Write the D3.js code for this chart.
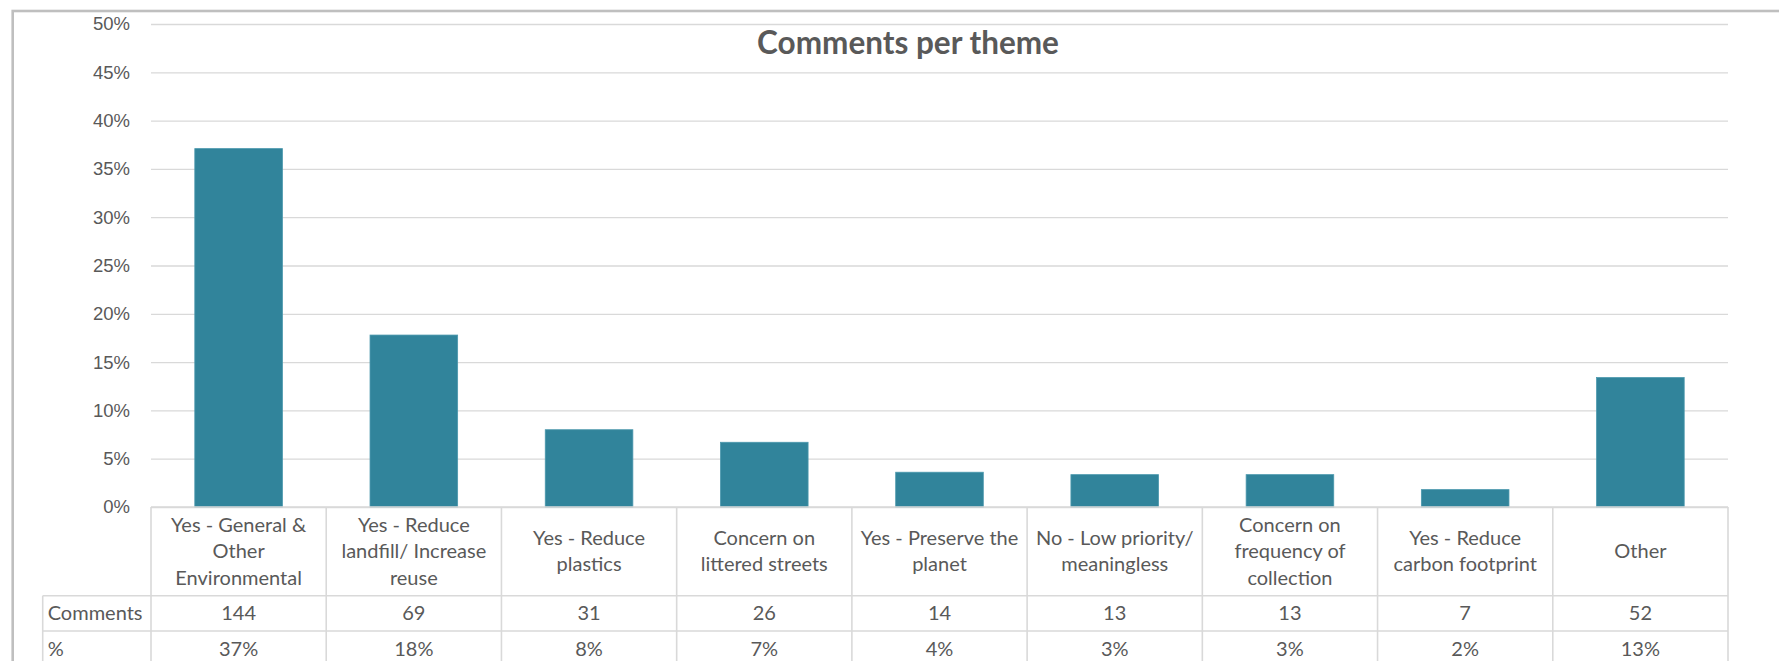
<!DOCTYPE html>
<meta charset="utf-8">
<style>
    body { margin: 0; background: #fff; }
    svg { display: block; font-family: Lato, "Open Sans", sans-serif; }
    .grid line { stroke: #d9d9d9; stroke-width: 1.3px; }
    .grid path { display: none; }
    .axis text { fill: #595959; font-size: 18.5px; }
    .axis line, .axis path { display: none; }
    .bar { fill: #31849b; stroke: #4b98ad; stroke-width: 0.8px; }
    .cell { stroke: #d9d9d9; stroke-width: 1.6px; fill: none; }
    .lbl { fill: #595959; font-size: 20px; text-anchor: middle; }
    .title { fill: #595959; font-size: 31.5px; font-weight: bold; text-anchor: middle; }
</style>
<body>
<svg width="1779" height="661"></svg>
<script src="https://d3js.org/d3.v7.min.js"></script>
<script>

    // chart data
    var categories = [
        ["Yes - General &", "Other", "Environmental"],
        ["Yes - Reduce", "landfill/ Increase", "reuse"],
        ["Yes - Reduce", "plastics"],
        ["Concern on", "littered streets"],
        ["Yes - Preserve the", "planet"],
        ["No - Low priority/", "meaningless"],
        ["Concern on", "frequency of", "collection"],
        ["Yes - Reduce", "carbon footprint"],
        ["Other"]
    ];
    var shares = [37.1, 17.8, 8.0, 6.7, 3.6, 3.35, 3.35, 1.8, 13.4];
    var comments = [144, 69, 31, 26, 14, 13, 13, 7, 52];
    var pctLabels = ["37%", "18%", "8%", "7%", "4%", "3%", "3%", "2%", "13%"];
    var yTicks = [0, 5, 10, 15, 20, 25, 30, 35, 40, 45, 50];
    var rowNames = ["Comments", "%"];

    var svg = d3.select("svg"),
        plot = {left: 151, right: 1728, top: 24, bottom: 507},
        tableLeft = 42.7,
        rows = [507, 595.7, 631, 666];

    var x = d3.scaleBand()
        .domain(d3.range(categories.length))
        .range([plot.left, plot.right])
        .paddingInner(0.5)
        .paddingOuter(0.25);

    var band = d3.scaleBand()
        .domain(d3.range(categories.length))
        .range([plot.left, plot.right]);

    var y = d3.scaleLinear().domain([0, 50]).range([plot.bottom, plot.top]);

    // outer chart border (cropped on right/bottom)
    svg.append("rect")
        .attr("x", 12.7).attr("y", 11)
        .attr("width", 1900).attr("height", 800)
        .attr("fill", "none")
        .attr("stroke", "#bfbfbf")
        .attr("stroke-width", 2.6);

    // gridlines
    svg.append("g")
        .attr("class", "grid")
        .attr("transform", "translate(" + plot.left + ",0)")
        .call(d3.axisRight(y).tickValues(yTicks).tickSize(plot.right - plot.left).tickFormat(""));

    // y labels
    svg.append("g")
        .attr("class", "axis")
        .attr("transform", "translate(136,0)")
        .call(d3.axisLeft(y).tickValues(yTicks).tickSize(0).tickPadding(6).tickFormat(function (d) { return d + "%"; }));

    svg.append("text")
        .attr("class", "title")
        .attr("x", 908).attr("y", 54)
        .text("Comments per theme");

    // bars
    svg.selectAll(".bar")
        .data(shares)
        .enter().append("rect")
        .attr("class", "bar")
        .attr("x", function (d, i) { return x(i); })
        .attr("width", x.bandwidth())
        .attr("y", function (d) { return y(d); })
        .attr("height", function (d) { return y(0) - y(d); });

    // data table lines
    var tbl = svg.append("g");
    // horizontal lines
    tbl.append("line").attr("class", "cell")
        .attr("x1", plot.left).attr("x2", plot.right).attr("y1", rows[0]).attr("y2", rows[0]);
    [rows[1], rows[2], rows[3]].forEach(function (ry) {
        tbl.append("line").attr("class", "cell")
            .attr("x1", tableLeft).attr("x2", plot.right).attr("y1", ry).attr("y2", ry);
    });
    // vertical lines
    d3.range(categories.length + 1).forEach(function (i) {
        var vx = i < categories.length ? band(i) : plot.right;
        tbl.append("line").attr("class", "cell")
            .attr("x1", vx).attr("x2", vx).attr("y1", rows[0]).attr("y2", 700);
    });
    tbl.append("line").attr("class", "cell")
        .attr("x1", tableLeft).attr("x2", tableLeft).attr("y1", rows[1]).attr("y2", 700);

    // category labels
    var lineH = 26.3;
    var catMid = (rows[0] + rows[1]) / 2;
    svg.selectAll(".cat")
        .data(categories)
        .enter().append("text")
        .attr("class", "lbl")
        .attr("transform", function (d, i) {
            return "translate(" + (band(i) + band.bandwidth() / 2) + "," + catMid + ")";
        })
        .each(function (lines) {
            var t = d3.select(this);
            var start = -(lines.length - 1) / 2 * lineH + 7;
            lines.forEach(function (s, k) {
                t.append("tspan").attr("x", 0).attr("y", start + k * lineH).text(s);
            });
        });

    // table rows
    [comments, pctLabels].forEach(function (vals, r) {
        var mid = (rows[r + 1] + rows[r + 2]) / 2 + 7;
        svg.append("text")
            .attr("class", "lbl")
            .style("text-anchor", "start")
            .attr("x", tableLeft + 5).attr("y", mid)
            .text(rowNames[r]);
        svg.selectAll(".row" + r)
            .data(vals)
            .enter().append("text")
            .attr("class", "lbl")
            .attr("x", function (d, i) { return band(i) + band.bandwidth() / 2; })
            .attr("y", mid)
            .text(function (d) { return d; });
    });

</script>
</body>
